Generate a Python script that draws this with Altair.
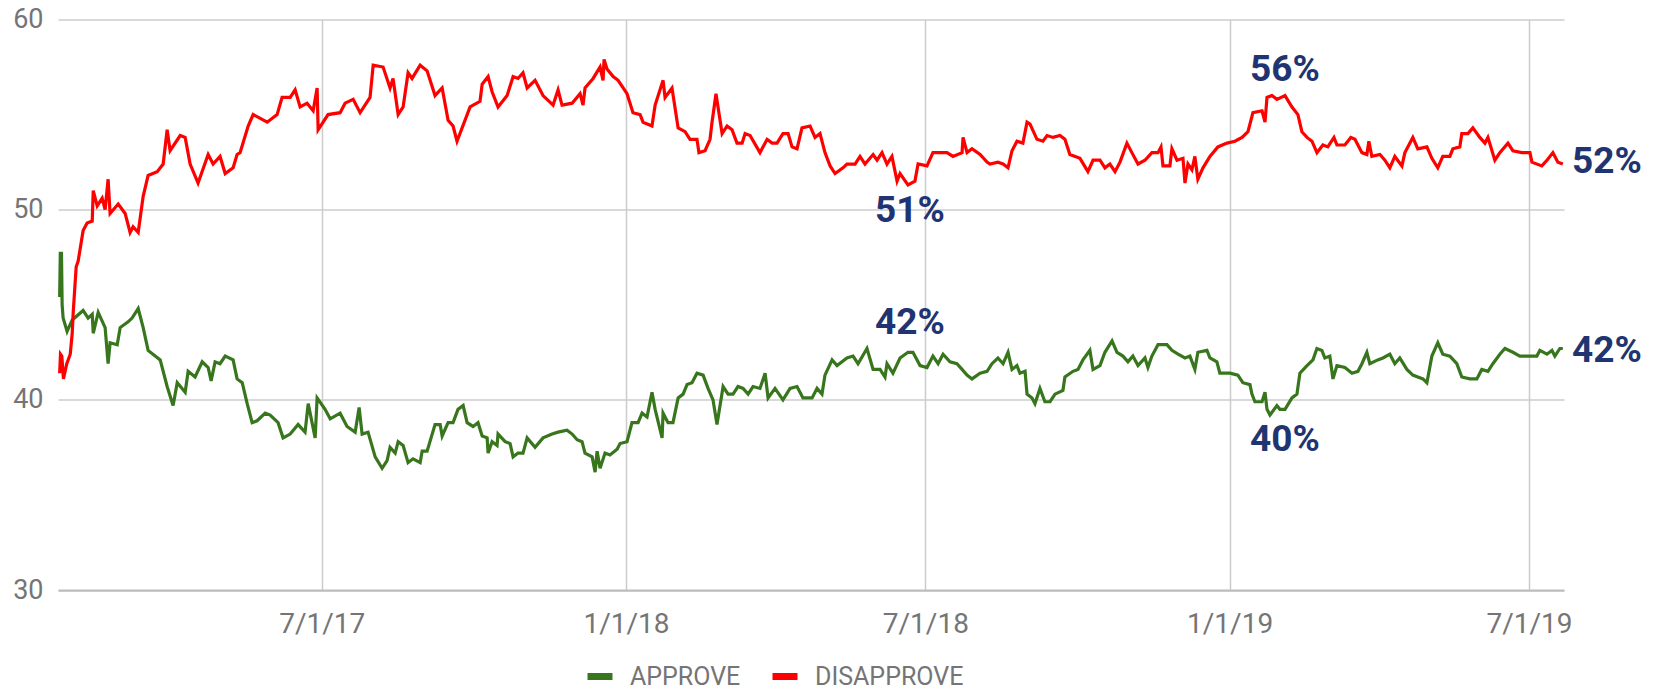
import altair as alt
import pandas as pd

# days since 2017-01-22, percent
BASE = pd.Timestamp("2017-01-22")

approve_points = [
    (1.5, 45.4), (1.9, 47.7), (2.6, 47.7), (3.0, 45.0), (3.6, 44.3), (6.0, 43.6), (9.1, 44.2),
    (15.7, 44.7), (18.7, 44.3), (21.2, 44.5), (21.8, 43.5), (24.8, 44.6), (29.0, 43.8),
    (30.8, 41.9), (32.0, 43.0), (36.3, 42.9), (38.1, 43.8), (42.9, 44.1), (45.3, 44.3),
    (49.0, 44.8), (52.0, 43.8), (55.0, 42.6), (62.3, 42.1), (66.5, 40.7), (70.1, 39.7),
    (72.6, 40.9), (77.4, 40.4), (79.2, 41.5), (83.4, 41.2), (87.7, 42.0), (91.3, 41.7),
    (93.1, 41.0), (95.5, 42.0), (98.5, 41.9), (101.6, 42.3), (106.4, 42.1), (108.8, 41.1),
    (111.9, 40.9), (114.9, 39.8), (117.9, 38.8), (120.9, 38.9), (125.8, 39.3), (128.8, 39.2),
    (133.6, 38.8), (136.6, 38.0), (140.9, 38.2), (145.7, 38.7), (149.9, 38.3), (151.8, 39.8),
    (156.0, 38.0), (157.2, 40.1), (162.0, 39.5), (165.1, 39.0), (171.1, 39.3), (175.3, 38.6),
    (180.2, 38.3), (182.6, 39.6), (184.4, 38.2), (188.0, 38.3), (192.3, 37.0), (196.5, 36.4),
    (199.5, 36.8), (201.3, 37.5), (204.4, 37.2), (206.2, 37.8), (209.2, 37.6), (212.2, 36.7),
    (215.2, 36.9), (219.5, 36.7), (220.7, 37.3), (223.7, 37.3), (228.5, 38.7), (231.6, 38.7),
    (232.8, 38.1), (236.4, 38.8), (239.4, 38.8), (242.4, 39.5), (245.5, 39.7), (247.9, 38.8),
    (251.5, 38.6), (254.5, 38.8), (257.0, 38.1), (260.0, 38.0), (260.6, 37.2), (263.0, 37.8),
    (266.0, 37.6), (266.6, 38.2), (270.9, 37.8), (273.9, 37.7), (275.7, 37.0), (278.7, 37.2),
    (281.7, 37.2), (284.2, 38.0), (289.0, 37.5), (293.8, 38.0), (299.3, 38.2), (302.9, 38.3),
    (308.3, 38.4), (311.4, 38.2), (314.4, 37.9), (317.4, 37.8), (319.2, 37.2), (323.5, 37.0),
    (325.3, 36.2), (326.5, 37.3), (328.3, 36.4), (331.3, 37.2), (334.3, 37.1), (338.6, 37.4),
    (340.4, 37.7), (344.6, 37.8), (347.6, 38.8), (351.3, 38.8), (353.7, 39.3), (356.7, 39.1),
    (359.7, 40.4), (361.6, 39.5), (365.8, 38.0), (366.4, 39.3), (369.4, 38.8), (372.4, 38.8),
    (375.5, 40.1), (378.5, 40.3), (380.9, 40.8), (383.9, 40.9), (386.9, 41.4), (390.6, 41.3),
    (393.6, 40.6), (396.6, 40.0), (399.0, 38.7), (402.7, 40.7), (405.7, 40.3), (408.7, 40.3),
    (411.7, 40.7), (414.8, 40.6), (417.8, 40.3), (420.8, 40.7), (425.0, 40.6), (428.1, 41.4),
    (429.9, 40.1), (434.1, 40.6), (438.9, 40.0), (443.2, 40.6), (447.4, 40.7), (451.0, 40.1),
    (456.5, 40.1), (459.5, 40.6), (462.5, 40.3), (464.3, 41.3), (468.6, 42.1), (471.6, 41.8),
    (477.6, 42.2), (481.3, 42.3), (484.3, 41.9), (489.7, 42.7), (493.4, 41.6), (497.6, 41.6),
    (500.6, 41.2), (501.8, 41.9), (505.4, 41.4), (509.7, 42.2), (514.5, 42.5), (517.5, 42.5),
    (521.8, 41.8), (526.0, 41.7), (529.6, 42.3), (532.7, 41.9), (535.7, 42.4), (539.9, 42.0),
    (544.1, 41.9), (547.2, 41.6), (550.2, 41.3), (553.2, 41.1), (558.1, 41.4), (562.3, 41.5),
    (565.3, 41.9), (568.9, 42.2), (572.0, 41.9), (575.0, 42.5), (577.4, 41.6), (580.4, 41.8),
    (582.2, 41.4), (585.3, 41.5), (586.5, 40.3), (589.5, 40.1), (591.3, 39.8), (594.3, 40.6),
    (597.3, 39.9), (600.4, 39.9), (603.4, 40.3), (608.2, 40.5), (609.4, 41.2), (614.3, 41.5),
    (617.3, 41.6), (620.3, 42.1), (624.5, 42.6), (626.4, 41.6), (630.6, 41.8), (633.6, 42.5),
    (637.9, 43.1), (640.9, 42.5), (644.5, 42.3), (647.5, 42.0), (650.5, 42.3), (653.6, 41.8),
    (657.8, 42.2), (659.6, 41.7), (662.0, 42.3), (665.7, 42.9), (671.1, 42.9), (674.1, 42.6),
    (677.8, 42.4), (682.0, 42.2), (685.0, 42.3), (688.0, 41.6), (689.8, 42.5), (695.3, 42.6),
    (697.1, 42.2), (701.3, 42.0), (703.1, 41.4), (709.2, 41.4), (714.0, 41.3), (717.0, 40.9),
    (721.3, 40.8), (722.5, 40.3), (724.3, 39.9), (728.6, 39.9), (730.4, 40.4), (731.6, 39.5),
    (733.4, 39.2), (737.6, 39.7), (739.4, 39.5), (742.5, 39.5), (746.7, 40.1), (749.7, 40.3),
    (751.5, 41.4), (755.8, 41.8), (759.4, 42.1), (761.8, 42.7), (764.8, 42.6), (766.6, 42.2),
    (769.6, 42.3), (771.5, 41.1), (773.9, 41.8), (778.7, 41.7), (783.0, 41.4), (786.6, 41.5),
    (789.0, 41.9), (792.0, 42.5), (793.8, 41.9), (798.6, 42.1), (801.7, 42.2), (805.9, 42.4),
    (808.9, 41.9), (811.9, 42.2), (816.2, 41.6), (819.8, 41.3), (822.8, 41.2), (825.9, 41.1),
    (828.3, 40.9), (831.3, 42.3), (834.9, 43.0), (837.9, 42.4), (842.2, 42.3), (846.4, 41.9),
    (849.4, 41.2), (854.3, 41.1), (858.5, 41.1), (861.5, 41.6), (865.2, 41.5), (868.2, 41.9),
    (872.4, 42.4), (875.5, 42.7), (880.3, 42.5), (884.5, 42.3), (889.4, 42.3), (894.8, 42.3),
    (896.6, 42.6), (900.9, 42.4), (903.9, 42.6), (905.7, 42.3), (908.7, 42.7), (910.5, 42.7),
]

disapprove_points = [
    (1.5, 41.4), (2.0, 42.4), (2.8, 42.3), (3.8, 41.1), (5.8, 41.9), (7.9, 42.4), (9.1, 43.5),
    (9.7, 44.6), (11.5, 47.0), (12.7, 47.3), (15.7, 48.9), (18.1, 49.3), (21.2, 49.4),
    (21.8, 51.0), (24.2, 50.2), (27.2, 50.6), (29.0, 50.0), (30.8, 51.6), (32.0, 49.8),
    (36.9, 50.3), (41.1, 49.8), (44.1, 48.8), (45.9, 49.1), (49.0, 48.8), (52.0, 50.7),
    (55.0, 51.8), (60.5, 52.0), (64.1, 52.4), (66.5, 54.2), (68.3, 53.1), (74.4, 53.9),
    (77.4, 53.8), (80.4, 52.4), (85.2, 51.4), (91.3, 52.9), (94.3, 52.4), (98.5, 52.8),
    (101.6, 51.9), (106.4, 52.2), (108.8, 52.9), (110.6, 53.0), (115.5, 54.4), (118.5, 55.0),
    (127.0, 54.6), (133.0, 55.0), (136.0, 55.9), (140.9, 55.9), (143.9, 56.3), (146.9, 55.4),
    (151.1, 55.6), (154.8, 55.2), (157.2, 56.4), (157.8, 54.2), (163.8, 55.0), (171.1, 55.1),
    (174.1, 55.6), (179.0, 55.8), (183.2, 55.1), (189.2, 55.9), (191.1, 57.6), (197.1, 57.5),
    (201.3, 56.4), (203.1, 56.9), (206.2, 55.0), (209.2, 55.4), (212.2, 57.2), (214.6, 56.9),
    (219.5, 57.6), (223.7, 57.3), (228.5, 56.0), (232.8, 56.4), (236.4, 54.7), (239.4, 54.4),
    (241.8, 53.6), (249.7, 55.4), (255.7, 55.7), (257.0, 56.6), (260.6, 57.0), (263.0, 56.2),
    (266.6, 55.4), (272.1, 56.0), (275.7, 57.0), (278.7, 56.9), (281.7, 57.2), (284.2, 56.4),
    (289.0, 56.8), (293.8, 56.0), (299.9, 55.5), (302.9, 56.3), (305.3, 55.5), (311.4, 55.6),
    (316.2, 56.1), (318.0, 55.5), (319.2, 56.4), (324.1, 56.9), (328.3, 57.5), (330.1, 56.8),
    (330.7, 57.9), (332.5, 57.4), (336.2, 57.0), (339.2, 56.8), (344.6, 56.1), (348.2, 55.1),
    (352.5, 55.0), (354.3, 54.6), (359.7, 54.4), (361.6, 55.5), (366.4, 56.8), (367.6, 55.9),
    (371.8, 56.4), (375.5, 54.3), (379.7, 54.1), (382.7, 53.7), (386.9, 53.7), (388.1, 53.0),
    (391.8, 53.1), (394.8, 53.7), (396.0, 54.6), (398.4, 56.1), (402.1, 54.0), (405.1, 54.4),
    (408.1, 54.2), (411.1, 53.5), (414.2, 53.5), (416.0, 54.0), (419.0, 53.9), (425.0, 53.0),
    (429.3, 53.7), (432.3, 53.5), (435.3, 53.5), (438.9, 54.0), (442.0, 54.0), (444.4, 53.3),
    (447.4, 53.2), (450.4, 54.3), (455.3, 54.4), (458.3, 53.8), (461.3, 54.0), (464.3, 53.0),
    (467.4, 52.3), (470.4, 51.9), (475.2, 52.2), (477.6, 52.4), (482.5, 52.4), (485.5, 52.8),
    (488.5, 52.4), (493.4, 52.9), (495.8, 52.6), (498.8, 53.0), (501.8, 52.4), (504.8, 52.8),
    (507.9, 51.5), (509.7, 51.9), (514.5, 51.3), (518.7, 51.5), (520.6, 52.4), (526.0, 52.3),
    (529.6, 53.0), (533.9, 53.0), (538.1, 53.0), (541.7, 52.8), (547.2, 53.0), (547.8, 53.8),
    (550.2, 53.0), (553.2, 53.2), (558.1, 52.9), (562.3, 52.5), (564.1, 52.4), (568.9, 52.5),
    (572.0, 52.4), (575.0, 52.2), (577.4, 53.1), (580.4, 53.6), (584.0, 53.5), (586.5, 54.6),
    (588.3, 54.5), (592.5, 53.7), (596.1, 53.6), (598.6, 53.9), (602.2, 53.8), (606.4, 53.9),
    (609.4, 53.7), (612.4, 52.9), (618.5, 52.7), (623.3, 52.0), (626.4, 52.6), (630.6, 52.6),
    (633.6, 52.2), (636.6, 52.4), (639.7, 52.0), (642.7, 52.5), (646.9, 53.5), (649.9, 53.0),
    (653.6, 52.4), (657.8, 52.6), (662.0, 53.0), (665.7, 53.0), (667.5, 53.3), (668.7, 52.3),
    (672.9, 52.3), (674.1, 53.2), (677.2, 52.6), (680.8, 52.7), (682.0, 51.4), (683.8, 52.4),
    (686.2, 52.1), (688.0, 52.8), (689.8, 51.6), (692.9, 52.2), (697.1, 52.8), (701.9, 53.3),
    (707.4, 53.5), (712.2, 53.6), (716.5, 53.8), (720.1, 54.1), (723.1, 55.1), (728.6, 55.2),
    (730.4, 54.6), (731.6, 55.9), (734.6, 56.0), (737.6, 55.8), (742.5, 56.0), (746.7, 55.4),
    (750.3, 55.0), (752.7, 54.1), (755.8, 53.8), (758.8, 53.6), (761.8, 53.0), (765.4, 53.4),
    (768.4, 53.3), (772.1, 53.8), (773.9, 53.4), (778.7, 53.4), (782.3, 53.8), (784.8, 53.7),
    (789.0, 53.0), (792.0, 52.9), (793.2, 53.6), (795.0, 52.8), (799.9, 52.9), (802.9, 52.6),
    (805.9, 52.2), (808.9, 52.8), (813.2, 52.3), (815.0, 53.0), (819.8, 53.8), (822.8, 53.2),
    (828.3, 53.3), (831.3, 52.7), (834.9, 52.2), (837.9, 52.8), (842.2, 52.8), (844.0, 53.2),
    (848.2, 53.3), (849.4, 54.0), (853.1, 54.0), (856.1, 54.3), (860.3, 53.8), (863.4, 53.5),
    (865.2, 53.8), (869.4, 52.6), (872.4, 53.0), (877.3, 53.5), (880.3, 53.1), (885.7, 53.0),
    (890.6, 53.0), (891.8, 52.5), (897.8, 52.3), (900.9, 52.6), (904.5, 53.0), (907.5, 52.5),
    (910.5, 52.4),
]

series_names = ["APPROVE", "DISAPPROVE"]
series_colors = ["#38761d", "#ff0000"]

tick_dates = [(2017, 7, 1), (2018, 1, 1), (2018, 7, 1), (2019, 1, 1), (2019, 7, 1)]
y_ticks = [30, 40, 50, 60]

center_labels = ["56%", "51%", "42%", "40%"]
center_days = [742.4, 515.7, 515.7, 742.4]
center_pcts = [57.34, 49.93, 44.04, 37.89]

end_labels = ["52%", "42%"]
end_days = [916.0, 916.0]
end_pcts = [52.51, 42.57]

rows = []
for name, pts in zip(series_names, [approve_points, disapprove_points]):
    for d, v in pts:
        rows.append({"date": BASE + pd.to_timedelta(d, unit="D"), "pct": v, "series": name})
lines_df = pd.DataFrame(rows)

center_df = pd.DataFrame({
    "date": [BASE + pd.to_timedelta(d, unit="D") for d in center_days],
    "pct": center_pcts, "label": center_labels})
end_df = pd.DataFrame({
    "date": [BASE + pd.to_timedelta(d, unit="D") for d in end_days],
    "pct": end_pcts, "label": end_labels})

GRAY = "#757575"
FONT = "Roboto"

x_scale = alt.Scale(domain=[alt.DateTime(year=2017, month=1, date=22, hours=12),
                            alt.DateTime(year=2019, month=7, date=22, hours=5)])
y_scale = alt.Scale(domain=[30, 60], nice=False, zero=False)

x_enc = alt.X("date:T", scale=x_scale, axis=alt.Axis(
    values=[alt.DateTime(year=y, month=m, date=d) for y, m, d in tick_dates],
    format="%-m/%-d/%y", title=None, labelFont=FONT, labelFontSize=28, labelColor=GRAY,
    labelPadding=20, ticks=False, grid=True, gridColor="#cccccc", gridWidth=1.5,
    domainColor="#bdbdbd", domainWidth=2, labelFlush=False, labelOverlap=False))
y_enc = alt.Y("pct:Q", scale=y_scale, axis=alt.Axis(
    values=y_ticks, title=None, labelFont=FONT, labelFontSize=27, labelColor=GRAY,
    labelPadding=15, ticks=False, domain=False, grid=True, gridColor="#cccccc",
    gridWidth=1.5, labelFlush=False))

lines = alt.Chart(lines_df).mark_line(strokeWidth=3.2, interpolate="linear").encode(
    x=x_enc, y=y_enc,
    color=alt.Color("series:N", scale=alt.Scale(domain=series_names, range=series_colors),
                    legend=alt.Legend(orient="none", legendX=526, legendY=641,
                                      direction="horizontal", title=None,
                                      symbolType="stroke", symbolSize=625,
                                      symbolStrokeWidth=7, labelFont=FONT,
                                      labelFontSize=25, labelColor=GRAY, labelOffset=14,
                                      columnPadding=17, padding=0, labelLimit=400)),
    order=alt.Order("date:T"),
)

ANN = "#1f3470"
center_text = alt.Chart(center_df).mark_text(
    font=FONT, fontWeight="bold", fontSize=37, color=ANN, align="center", baseline="middle"
).encode(x="date:T", y="pct:Q", text="label:N")
end_text = alt.Chart(end_df).mark_text(
    font=FONT, fontWeight="bold", fontSize=37, color=ANN, align="left", baseline="middle"
).encode(x="date:T", y="pct:Q", text="label:N")

chart = alt.layer(lines, center_text, end_text).properties(
    width=1506, height=570.5,
    autosize=alt.AutoSizeParams(type="none"),
    padding={"left": 50, "top": 11.5, "right": 84, "bottom": 99},
    background="white",
).configure_view(stroke=None)

chart.save("out.html", embed_options={"renderer": "svg", "actions": False})
